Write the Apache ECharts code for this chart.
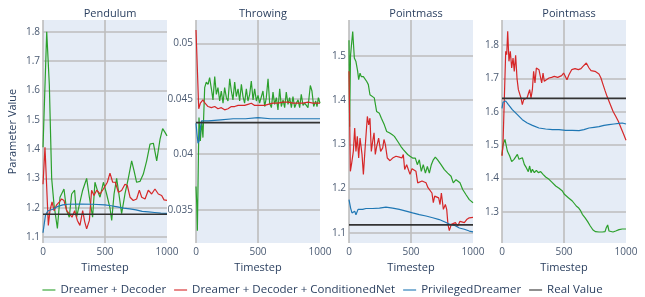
<!DOCTYPE html>
<html>
<head>
<meta charset="utf-8">
<script src="https://cdn.jsdelivr.net/npm/echarts@6/dist/echarts.min.js"></script>
<style>
  html, body { margin: 0; padding: 0; background: #fff; }
  #chart { width: 645px; height: 297px; }
</style>
</head>
<body>
<div id="chart"></div>
<script>
const titles = ['Pendulum', 'Throwing', 'Pointmass', 'Pointmass']
const seriesNames = ['Dreamer + Decoder', 'Dreamer + Decoder + ConditionedNet', 'PrivilegedDreamer', 'Real Value']
const colors = ['#2ca02c', '#d62728', '#1f77b4', '#333333']

// Pendulum
const pendDecX = [0, 30, 51, 70, 89, 116, 137, 169, 191, 212, 231, 255, 271, 293, 320, 352, 374, 400, 419, 438, 460, 487, 513, 540, 554, 573, 594, 616, 634, 661, 688, 715, 734, 755, 782, 809, 836, 863, 890, 917, 944, 965, 984, 1000]
const pendDecY = [1.406, 1.8, 1.62, 1.30, 1.21, 1.13, 1.236, 1.264, 1.19, 1.168, 1.247, 1.26, 1.168, 1.21, 1.26, 1.30, 1.236, 1.168, 1.287, 1.26, 1.236, 1.287, 1.247, 1.20, 1.157, 1.247, 1.30, 1.236, 1.18, 1.247, 1.30, 1.36, 1.327, 1.287, 1.29, 1.315, 1.36, 1.417, 1.42, 1.36, 1.434, 1.47, 1.457, 1.445]
const pendCondX = [0, 16, 30, 43, 56, 73, 89, 110, 132, 150, 169, 191, 212, 234, 255, 277, 298, 320, 336, 352, 374, 392, 411, 433, 460, 487, 503, 519, 540, 562, 583, 608, 634, 661, 680, 702, 728, 755, 777, 796, 823, 849, 876, 903, 930, 957, 976, 1000]
const pendCondY = [1.28, 1.406, 1.40, 1.14, 1.19, 1.22, 1.19, 1.21, 1.22, 1.23, 1.225, 1.19, 1.18, 1.168, 1.19, 1.157, 1.14, 1.19, 1.153, 1.128, 1.157, 1.26, 1.242, 1.26, 1.247, 1.264, 1.26, 1.287, 1.318, 1.287, 1.287, 1.253, 1.259, 1.28, 1.276, 1.236, 1.225, 1.23, 1.26, 1.236, 1.23, 1.26, 1.247, 1.264, 1.247, 1.242, 1.227, 1.225]
const pendPrivX = [0, 20, 40, 80, 120, 160, 200, 300, 400, 500, 550, 600, 650, 700, 750, 800, 850, 900, 950, 1000]
const pendPrivY = [1.115, 1.175, 1.19, 1.195, 1.205, 1.21, 1.212, 1.213, 1.212, 1.21, 1.207, 1.203, 1.199, 1.196, 1.193, 1.188, 1.186, 1.184, 1.182, 1.181]

// Throwing
const throwDecX = [0, 6, 11, 24, 35, 46, 56, 70, 83, 97, 110, 124, 137, 151, 164, 177, 191, 204, 218, 231, 245, 258, 272, 285, 298, 312, 325, 339, 352, 366, 379, 392, 406, 419, 433, 446, 460, 473, 487, 500, 513, 527, 540, 554, 567, 581, 594, 608, 621, 634, 648, 661, 675, 688, 702, 715, 728, 742, 755, 769, 782, 796, 809, 823, 836, 849, 863, 876, 890, 903, 922, 935, 949, 965, 976, 987, 1000]
const throwDecY = [0.0371, 0.0355, 0.0331, 0.0433, 0.0412, 0.043, 0.0415, 0.046, 0.0465, 0.0463, 0.0469, 0.0459, 0.0449, 0.047, 0.0454, 0.046, 0.0448, 0.0457, 0.0446, 0.046, 0.0451, 0.0448, 0.0468, 0.0457, 0.0449, 0.0465, 0.0452, 0.0459, 0.0448, 0.0463, 0.0452, 0.0446, 0.0459, 0.0448, 0.0454, 0.0466, 0.0449, 0.0459, 0.0448, 0.0453, 0.0446, 0.0445, 0.0457, 0.0443, 0.0451, 0.0468, 0.0446, 0.0442, 0.0456, 0.0445, 0.0451, 0.044, 0.0459, 0.0443, 0.0449, 0.0442, 0.0456, 0.0445, 0.0451, 0.0442, 0.0452, 0.0442, 0.0446, 0.0449, 0.0442, 0.0454, 0.0444, 0.0446, 0.0444, 0.0442, 0.0462, 0.0457, 0.0443, 0.0448, 0.0443, 0.0451, 0.0446]
const throwCondX = [0, 8, 22, 35, 56, 73, 97, 124, 151, 177, 204, 231, 258, 285, 312, 339, 366, 392, 419, 446, 473, 500, 527, 554, 581, 621, 661, 702, 742, 782, 823, 863, 903, 944, 1000]
const throwCondY = [0.0512, 0.0511, 0.0441, 0.0446, 0.0449, 0.0446, 0.0443, 0.0442, 0.0443, 0.0441, 0.0442, 0.044, 0.0441, 0.0443, 0.0443, 0.0444, 0.0444, 0.0444, 0.0445, 0.0446, 0.0444, 0.0444, 0.0444, 0.0444, 0.0445, 0.0446, 0.0446, 0.0447, 0.0447, 0.0446, 0.0446, 0.0446, 0.0447, 0.0446, 0.0446]
const throwPrivX = [0, 8, 16, 25, 33, 45, 60, 100, 200, 300, 400, 500, 600, 700, 800, 900, 1000]
const throwPrivY = [0.0428, 0.0418, 0.041, 0.0412, 0.0422, 0.043, 0.0429, 0.043, 0.0431, 0.0432, 0.0432, 0.0433, 0.0432, 0.0432, 0.0432, 0.0432, 0.0432]

// Pointmass (left)
const pm1DecX = [0, 5, 12, 30, 43, 56, 70, 78, 89, 99, 116, 132, 143, 156, 169, 185, 204, 223, 245, 261, 285, 304, 325, 347, 366, 392, 419, 438, 454, 473, 492, 513, 535, 551, 567, 583, 599, 616, 632, 648, 664, 680, 696, 715, 742, 769, 796, 823, 841, 863, 879, 895, 917, 944, 970, 1000]
const pm1DecY = [1.535, 1.34, 1.50, 1.555, 1.495, 1.487, 1.465, 1.446, 1.461, 1.453, 1.453, 1.45, 1.442, 1.435, 1.412, 1.41, 1.405, 1.374, 1.37, 1.359, 1.344, 1.329, 1.326, 1.322, 1.318, 1.307, 1.295, 1.288, 1.284, 1.277, 1.273, 1.269, 1.269, 1.254, 1.265, 1.239, 1.254, 1.235, 1.25, 1.235, 1.254, 1.265, 1.271, 1.265, 1.254, 1.243, 1.235, 1.228, 1.213, 1.22, 1.224, 1.213, 1.198, 1.186, 1.175, 1.168]
const pm1CondX = [0, 11, 22, 35, 46, 56, 67, 78, 89, 105, 116, 132, 148, 159, 169, 180, 191, 202, 212, 223, 239, 255, 272, 282, 293, 309, 331, 352, 379, 406, 427, 438, 449, 465, 481, 492, 508, 524, 540, 554, 567, 589, 605, 621, 637, 653, 669, 680, 691, 707, 723, 734, 745, 761, 777, 788, 798, 809, 825, 841, 858, 876, 895, 911, 930, 949, 970, 1000]
const pm1CondY = [1.465, 1.239, 1.258, 1.284, 1.337, 1.284, 1.318, 1.269, 1.314, 1.277, 1.232, 1.30, 1.363, 1.344, 1.359, 1.284, 1.307, 1.326, 1.277, 1.295, 1.314, 1.284, 1.292, 1.311, 1.30, 1.269, 1.263, 1.269, 1.273, 1.271, 1.269, 1.277, 1.243, 1.254, 1.254, 1.232, 1.245, 1.247, 1.239, 1.213, 1.217, 1.217, 1.218, 1.213, 1.202, 1.198, 1.19, 1.168, 1.183, 1.18, 1.179, 1.164, 1.19, 1.153, 1.164, 1.153, 1.119, 1.105, 1.119, 1.115, 1.123, 1.115, 1.126, 1.13, 1.123, 1.13, 1.134, 1.135]
const pm1PrivX = [0, 13, 24, 35, 46, 56, 73, 89, 110, 137, 191, 245, 298, 352, 406, 460, 513, 567, 621, 675, 728, 769, 809, 849, 890, 930, 970, 1000]
const pm1PrivY = [1.175, 1.156, 1.145, 1.141, 1.149, 1.141, 1.153, 1.149, 1.153, 1.155, 1.155, 1.156, 1.158, 1.156, 1.153, 1.149, 1.145, 1.141, 1.138, 1.134, 1.13, 1.125, 1.12, 1.117, 1.111, 1.108, 1.104, 1.102]

// Pointmass (right)
const pm2DecX = [0, 8, 24, 43, 62, 78, 97, 110, 124, 137, 151, 164, 180, 196, 212, 223, 234, 245, 261, 277, 293, 312, 331, 352, 379, 406, 433, 460, 487, 503, 519, 535, 551, 567, 583, 599, 616, 632, 648, 669, 691, 712, 734, 755, 782, 809, 831, 841, 852, 863, 879, 895, 917, 944, 970, 1000]
const pm2DecY = [1.47, 1.50, 1.517, 1.482, 1.467, 1.45, 1.457, 1.462, 1.472, 1.457, 1.452, 1.462, 1.442, 1.432, 1.42, 1.437, 1.417, 1.427, 1.417, 1.424, 1.417, 1.42, 1.412, 1.404, 1.397, 1.387, 1.377, 1.37, 1.362, 1.352, 1.347, 1.342, 1.342, 1.332, 1.327, 1.317, 1.312, 1.304, 1.292, 1.282, 1.27, 1.257, 1.245, 1.24, 1.239, 1.239, 1.24, 1.252, 1.26, 1.242, 1.244, 1.239, 1.242, 1.246, 1.248, 1.248]
const pm2CondX = [0, 8, 19, 30, 38, 46, 56, 67, 78, 89, 99, 110, 121, 132, 142, 153, 164, 175, 185, 202, 212, 223, 234, 245, 255, 266, 277, 288, 298, 309, 320, 331, 341, 358, 379, 400, 422, 438, 449, 465, 481, 497, 513, 524, 540, 562, 589, 616, 637, 653, 669, 680, 691, 702, 718, 734, 750, 766, 782, 798, 815, 831, 847, 863, 879, 895, 917, 938, 960, 981, 1000]
const pm2CondY = [1.467, 1.502, 1.641, 1.781, 1.771, 1.841, 1.751, 1.781, 1.731, 1.761, 1.721, 1.769, 1.70, 1.666, 1.661, 1.641, 1.621, 1.636, 1.633, 1.641, 1.636, 1.666, 1.641, 1.666, 1.721, 1.686, 1.731, 1.736, 1.726, 1.731, 1.686, 1.716, 1.691, 1.696, 1.701, 1.703, 1.706, 1.709, 1.703, 1.709, 1.708, 1.716, 1.721, 1.696, 1.711, 1.726, 1.729, 1.726, 1.729, 1.736, 1.741, 1.746, 1.741, 1.731, 1.723, 1.729, 1.721, 1.723, 1.713, 1.701, 1.681, 1.663, 1.646, 1.631, 1.616, 1.601, 1.586, 1.571, 1.551, 1.532, 1.514]
const pm2PrivX = [0, 8, 20, 30, 50, 83, 124, 164, 204, 245, 298, 352, 406, 460, 513, 567, 621, 661, 702, 742, 782, 823, 863, 903, 944, 970, 1000]
const pm2PrivY = [1.61, 1.628, 1.626, 1.632, 1.622, 1.606, 1.591, 1.576, 1.566, 1.559, 1.551, 1.548, 1.546, 1.546, 1.544, 1.544, 1.543, 1.546, 1.551, 1.553, 1.555, 1.559, 1.561, 1.563, 1.565, 1.566, 1.563]

const realValues = [1.178, 0.04285, 1.118, 1.64]

// y ticks and ranges per panel
const yTicks = [
  [1.1, 1.2, 1.3, 1.4, 1.5, 1.6, 1.7, 1.8],
  [0.035, 0.04, 0.045, 0.05],
  [1.1, 1.2, 1.3, 1.4, 1.5],
  [1.3, 1.4, 1.5, 1.6, 1.7, 1.8]
]
const yMin = [1.08, 0.032, 1.077, 1.206]
const yMax = [1.84, 0.0521, 1.581, 1.875]

const panels = [
  [[pendDecX, pendDecY], [pendCondX, pendCondY], [pendPrivX, pendPrivY]],
  [[throwDecX, throwDecY], [throwCondX, throwCondY], [throwPrivX, throwPrivY]],
  [[pm1DecX, pm1DecY], [pm1CondX, pm1CondY], [pm1PrivX, pm1PrivY]],
  [[pm2DecX, pm2DecY], [pm2CondX, pm2CondY], [pm2PrivX, pm2PrivY]]
]

const zip = (xs, ys) => xs.map((x, i) => [x, ys[i]])

const gridLeft = [43, 196, 349, 502]
const gridW = 124
const textColor = '#2a3f5f'
const tickColor = '#4a5a72'
const font = 'Open Sans'
const gridColor = '#bdbdbd'

const chart = echarts.init(document.getElementById('chart'))

const grid = []
const xAxis = []
const yAxis = []
const title = []
const series = []

panels.forEach((p, i) => {
  grid.push({ left: gridLeft[i], top: 20, width: gridW, height: 223, outerBoundsMode: 'none', backgroundColor: '#e5ecf6', show: true, borderWidth: 0 })
  title.push({ text: titles[i], left: gridLeft[i] + gridW / 2, textAlign: 'center', top: 3, textStyle: { fontFamily: font, fontSize: 11, fontWeight: 'normal', color: textColor } })
  xAxis.push({
    type: 'value', gridIndex: i, min: 0, max: 1000, interval: 500,
    name: 'Timestep', nameLocation: 'middle', nameGap: 17,
    nameTextStyle: { fontFamily: font, fontSize: 11, color: textColor },
    axisLine: { show: false }, axisTick: { show: false },
    axisLabel: { fontFamily: font, fontSize: 10, color: tickColor, margin: 4, formatter: v => String(v) },
    splitLine: { show: true, showMaxLine: false, lineStyle: { color: gridColor, width: 1.6 } }
  })
  yAxis.push({
    type: 'value', gridIndex: i, min: yMin[i], max: yMax[i],
    name: i === 0 ? 'Parameter Value' : '', nameLocation: 'middle', nameGap: 25,
    nameTextStyle: { fontFamily: font, fontSize: 11, color: textColor },
    axisLine: { show: false },
    axisTick: { show: false, customValues: yTicks[i] },
    axisLabel: { fontFamily: font, fontSize: 10, color: tickColor, margin: 3, customValues: yTicks[i], formatter: v => String(v) },
    splitLine: { show: true, lineStyle: { color: gridColor, width: 1.6 } }
  })
  p.forEach((d, k) => {
    series.push({
      type: 'line', name: seriesNames[k], xAxisIndex: i, yAxisIndex: i,
      data: zip(d[0], d[1]), symbol: 'none', clip: true,
      lineStyle: { color: colors[k], width: 1.2 }, itemStyle: { color: colors[k] },
      z: 2 + k
    })
  })
  series.push({
    type: 'line', name: seriesNames[3], xAxisIndex: i, yAxisIndex: i,
    data: zip([0, 1000], [realValues[i], realValues[i]]), symbol: 'none',
    lineStyle: { color: colors[3], width: 1.6 }, itemStyle: { color: colors[3] }, z: 6
  })
})

chart.setOption({
  animation: false,
  backgroundColor: '#fff',
  title: title,
  grid: grid,
  xAxis: xAxis,
  yAxis: yAxis,
  legend: {
    data: seriesNames, top: 279, left: 'center',
    icon: 'rect', itemWidth: 13, itemHeight: 2, itemGap: 8,
    itemStyle: { opacity: 0.55 },
    textStyle: { fontFamily: font, fontSize: 11.5, color: textColor }
  },
  series: series
})
</script>
</body>
</html>
